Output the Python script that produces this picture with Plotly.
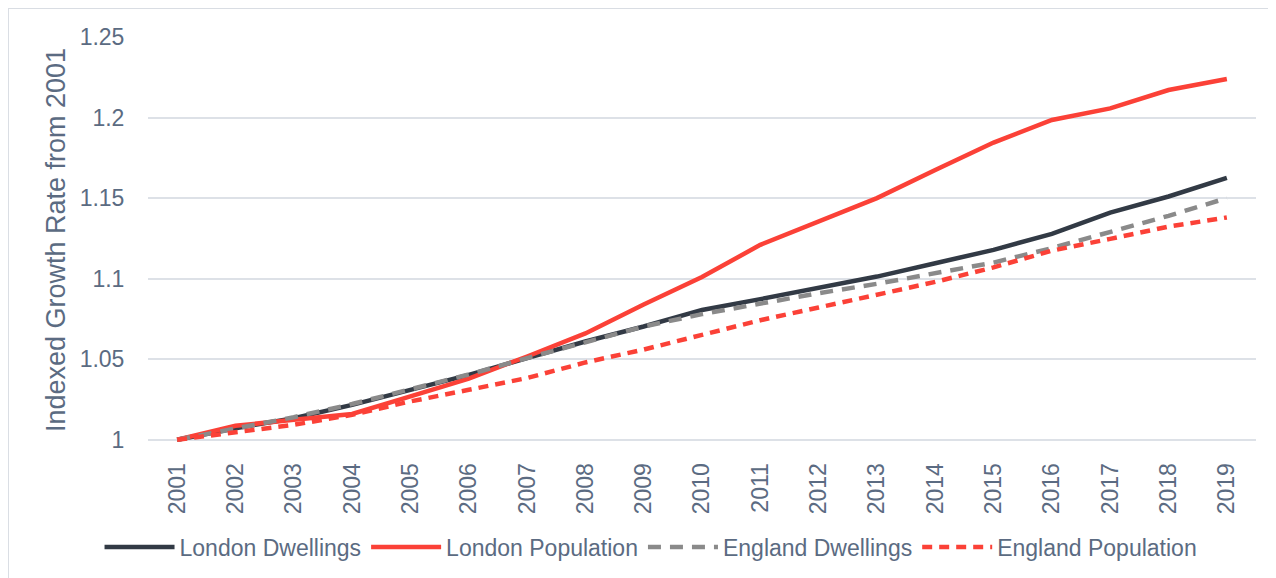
import plotly.graph_objects as go

years = [str(y) for y in range(2001, 2020)]

london_dwellings = [1.0, 1.0072, 1.0134, 1.0217, 1.031, 1.0403, 1.0507, 1.061, 1.0703, 1.0806,
                    1.0873, 1.094, 1.1013, 1.1096, 1.1179, 1.1278, 1.141, 1.151, 1.1625]
london_population = [1.0, 1.0087, 1.0124, 1.016, 1.0269, 1.038, 1.0517, 1.066, 1.084, 1.101,
                     1.121, 1.1354, 1.150, 1.1675, 1.1845, 1.1985, 1.2057, 1.2171, 1.2239]
england_dwellings = [1.0, 1.0072, 1.014, 1.0222, 1.0313, 1.0405, 1.0507, 1.0603, 1.0703, 1.078,
                     1.0848, 1.091, 1.0968, 1.1034, 1.110, 1.119, 1.129, 1.139, 1.15]
england_population = [1.0, 1.0045, 1.0093, 1.0155, 1.0238, 1.031, 1.0383, 1.048, 1.056, 1.0651,
                       1.0742, 1.0821, 1.09, 1.098, 1.107, 1.1174, 1.1247, 1.1323, 1.138]

text_color = '#5b6b82'
font_family = 'Liberation Sans, Arial, sans-serif'

series = [
    ('London Dwellings', london_dwellings, '#323a45', 'solid'),
    ('London Population', london_population, '#fb4137', 'solid'),
    ('England Dwellings', england_dwellings, '#8a8a8a', '13px,9px'),
    ('England Population', england_population, '#fb4137', '10px,7px'),
]

fig = go.Figure()

for name, values, color, dash in series:
    fig.add_trace(go.Scatter(
        x=years,
        y=values,
        name=name,
        mode='lines',
        line={'color': color, 'width': 4.5, 'dash': dash},
    ))

fig.update_layout(
    width=1276, height=578,
    margin={'l': 140, 'r': 28, 't': 29, 'b': 143},
    paper_bgcolor='white',
    plot_bgcolor='white',
    font={'family': font_family, 'color': text_color, 'size': 23},
    xaxis={
        'type': 'category',
        'range': [-0.5, 18.5],
        'tickangle': -90,
        'ticks': 'outside', 'ticklen': 10, 'tickcolor': 'rgba(0,0,0,0)',
        'tickfont': {'size': 23, 'color': text_color},
        'showgrid': False, 'showline': False, 'zeroline': False,
    },
    yaxis={
        'range': [0.998, 1.25],
        'tickvals': [1, 1.05, 1.1, 1.15, 1.2, 1.25],
        'ticktext': ['1', '1.05', '1.1', '1.15', '1.2', '1.25'],
        'ticks': 'outside', 'ticklen': 18, 'tickcolor': 'rgba(0,0,0,0)',
        'tickfont': {'size': 23, 'color': text_color},
        'gridcolor': '#dde1e7', 'gridwidth': 2,
        'showline': False, 'zeroline': False,
        'title': {'text': 'Indexed Growth Rate from 2001', 'standoff': 6,
                  'font': {'size': 27, 'color': text_color}},
    },
    legend={
        'orientation': 'h',
        'x': 0.454, 'xanchor': 'center',
        'y': -0.256, 'yanchor': 'middle',
        'font': {'size': 23, 'color': text_color},
        'traceorder': 'normal',
        'itemwidth': 70,
    },
    shapes=[{
        'type': 'rect', 'xref': 'paper', 'yref': 'paper',
        'x0': -0.1264, 'x1': 1.05, 'y0': -0.5, 'y1': 1.0714,
        'line': {'color': '#d9dde3', 'width': 2},
        'layer': 'below',
    }],
)

fig.write_html('out.html')
